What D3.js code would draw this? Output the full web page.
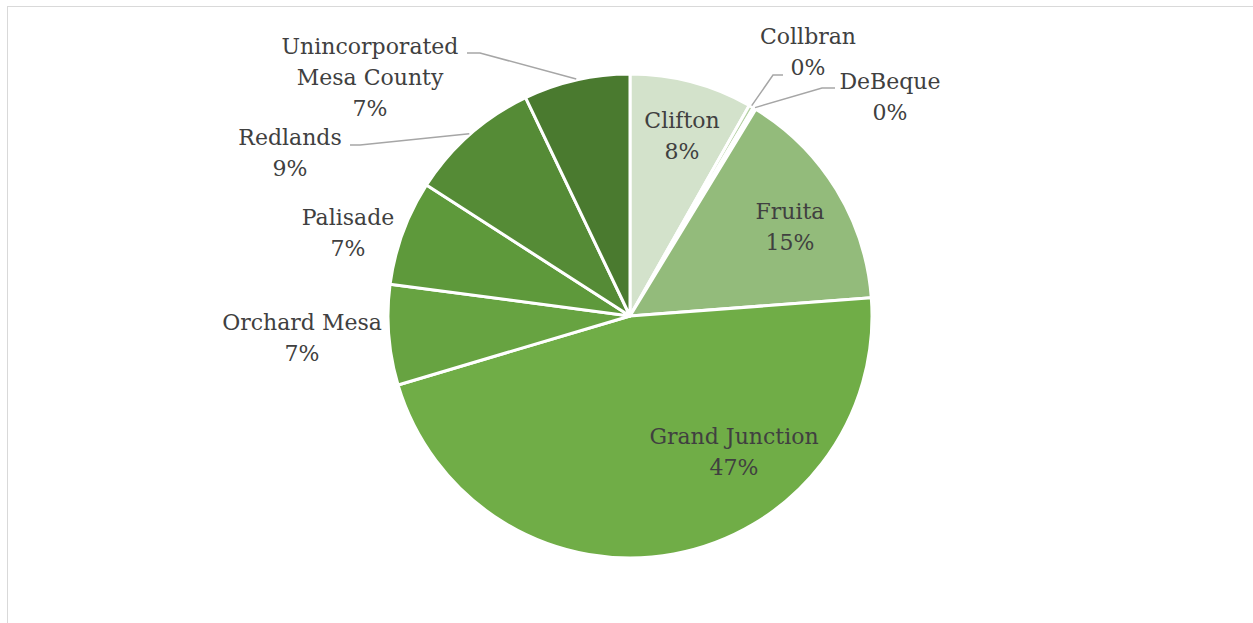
<!DOCTYPE html>
<html>
<head>
<meta charset="utf-8">
<script src="https://cdn.jsdelivr.net/npm/d3@7"></script>
<style>
  html, body { margin: 0; padding: 0; background: #fff; }
  svg { display: block; }
  text { font-family: "DejaVu Serif", serif; font-size: 22px; fill: #404040; }
</style>
</head>
<body>
<svg id="chart" width="1253" height="623"></svg>
<script>
// Share of records by community, clockwise from 12 o'clock
const communities = ["Clifton", "Collbran", "DeBeque", "Fruita", "Grand Junction",
                     "Orchard Mesa", "Palisade", "Redlands", "Unincorporated Mesa County"];
const shares = [8.2, 0.3, 0.2, 15.1, 46.6, 6.7, 7.0, 8.8, 7.1];
const sliceColors = ["#d3e2cb", "#b5d1a3", "#a4c68d", "#93bb7b", "#70ad47",
                     "#67a341", "#5e993b", "#558b36", "#4a7a2f"];

// Label text lines (the name may wrap onto two lines)
const nameLines = [["Clifton"], ["Collbran"], ["DeBeque"], ["Fruita"], ["Grand Junction"],
                   ["Orchard Mesa"], ["Palisade"], ["Redlands"], ["Unincorporated", "Mesa County"]];

const svg = d3.select("#chart");
const W = 1253, H = 623;
const cx = 630, cy = 316, R = 242;

// chart area frame
svg.append("rect")
  .attr("x", 7.5).attr("y", 6.5)
  .attr("width", W + 10).attr("height", H + 10)
  .attr("fill", "none").attr("stroke", "#d9d9d9").attr("stroke-width", 1);

const data = communities.map((c, i) => ({ name: c, value: shares[i], color: sliceColors[i], lines: nameLines[i] }));

const pie = d3.pie().value(d => d.value).sort(null);
const arcs = pie(data);
const arc = d3.arc().innerRadius(0).outerRadius(R);

const g = svg.append("g").attr("transform", `translate(${cx},${cy})`);

g.selectAll("path.slice")
  .data(arcs)
  .join("path")
  .attr("class", "slice")
  .attr("d", arc)
  .attr("fill", d => d.data.color)
  .attr("stroke", "#ffffff")
  .attr("stroke-width", 3)
  .attr("stroke-linejoin", "round");

// Label block centres, relative to the pie centre
const labelOffset = {
  "Clifton": [52, -180],
  "Collbran": [178, -264],
  "DeBeque": [260, -219],
  "Fruita": [160, -89],
  "Grand Junction": [104, 136],
  "Orchard Mesa": [-328, 22],
  "Palisade": [-282, -83],
  "Redlands": [-340, -163],
  "Unincorporated Mesa County": [-260, -239]
};
// Leader lines for outside labels: elbow point and horizontal tail length
const leaders = {
  "Collbran": { elbow: [143, -241], tail: 10 },
  "DeBeque": { elbow: [192, -228], tail: 13 },
  "Redlands": { elbow: [-270, -171], tail: -10 },
  "Unincorporated Mesa County": { elbow: [-150, -263], tail: -13 }
};

const lineH = 31;

arcs.forEach(a => {
  const name = a.data.name;
  const lines = a.data.lines.concat([d3.format(".0f")(a.data.value) + "%"]);
  const [lx, ly] = labelOffset[name];

  const lead = leaders[name];
  if (lead) {
    const mid = (a.startAngle + a.endAngle) / 2;
    const p0 = [(R + 1) * Math.sin(mid), -(R + 1) * Math.cos(mid)];
    const p1 = lead.elbow;
    const p2 = [p1[0] + lead.tail, p1[1]];
    g.append("polyline")
      .attr("points", [p0, p1, p2].map(p => p.join(",")).join(" "))
      .attr("fill", "none")
      .attr("stroke", "#a6a6a6")
      .attr("stroke-width", 1.5);
  }

  const t = g.append("text")
    .attr("text-anchor", "middle")
    .attr("transform", `translate(${lx},${ly})`);
  const y0 = -((lines.length - 1) * lineH) / 2;
  lines.forEach((s, i) => {
    t.append("tspan")
      .attr("x", 0)
      .attr("y", y0 + i * lineH)
      .attr("dy", "0.35em")
      .text(s);
  });
});
</script>
</body>
</html>
